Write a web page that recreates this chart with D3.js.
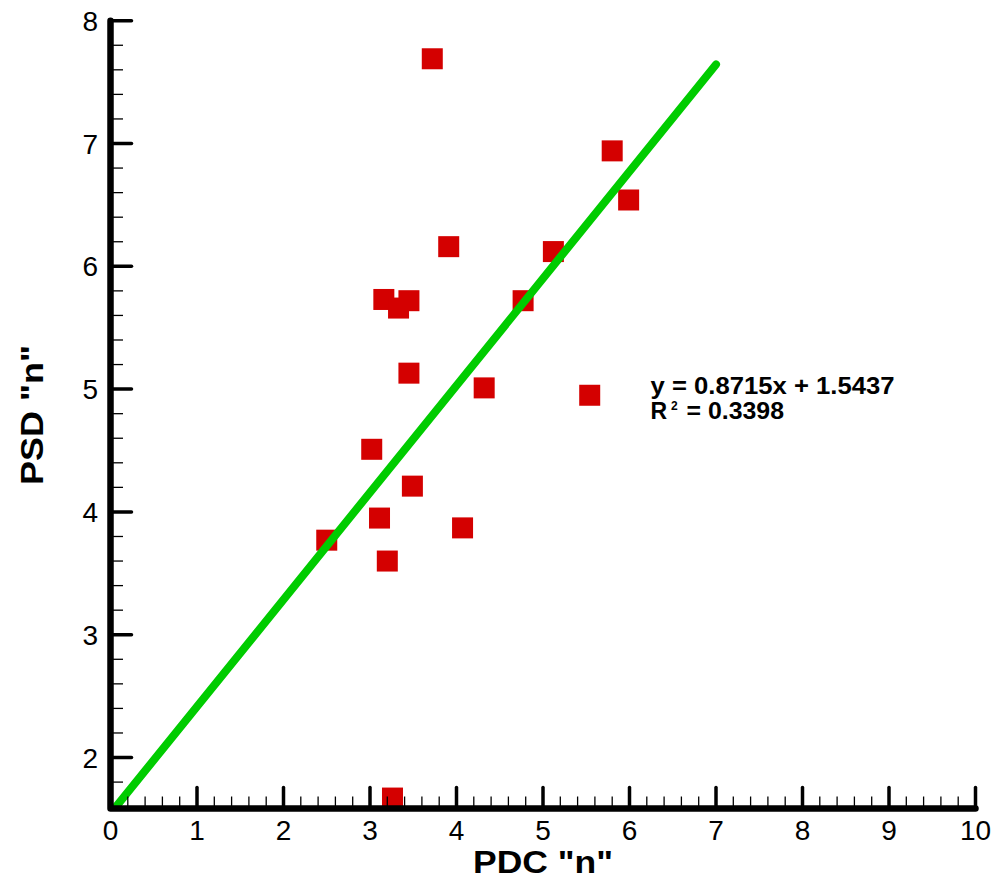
<!DOCTYPE html>
<html>
<head>
<meta charset="utf-8">
<script src="https://cdn.jsdelivr.net/npm/d3@7"></script>
<style>
  html, body { margin: 0; padding: 0; background: #fff; }
  svg { display: block; font-family: "Liberation Sans", Arial, Helvetica, sans-serif; }
</style>
</head>
<body>
<svg id="chart" width="995" height="880"></svg>
<script>
// ---- data ----
const pdcValues = [3.72, 3.91, 3.16, 3.45, 3.33, 3.45, 4.32, 3.02, 3.49, 3.11, 4.07, 2.50, 3.20, 5.80, 5.99, 5.12, 4.77, 5.54, 3.26];
const psdValues = [7.69, 6.16, 5.73, 5.72, 5.66, 5.13, 5.01, 4.51, 4.21, 3.95, 3.87, 3.77, 3.60, 6.94, 6.54, 6.12, 5.72, 4.95, 1.67];
const fitSlope = 0.8715;
const fitIntercept = 1.5437;
const fitXRange = [0, 7];
const xDomain = [0, 10];
const yDomain = [1.585, 8];
const xTickValues = [0, 1, 2, 3, 4, 5, 6, 7, 8, 9, 10];
const yTickValues = [2, 3, 4, 5, 6, 7, 8];
const xTitle = 'PDC "n"';
const yTitle = 'PSD "n"';
const eqLine1 = "y = 0.8715x + 1.5437";
const eqLine2 = "= 0.3398";

(function () {
// ---- layout ----
const svg = d3.select("#chart");
const pLeft = 110.5, pRight = 975.5, pTop = 20.7, pBottom = 808.5;
const x = d3.scaleLinear().domain(xDomain).range([pLeft, pRight]);
const y = d3.scaleLinear().domain(yDomain).range([pBottom, pTop]);

const red = "#d40000", green = "#00cc00";

// clip
svg.append("defs").append("clipPath").attr("id", "plotclip")
  .append("rect").attr("x", pLeft).attr("y", 0).attr("width", pRight - pLeft + 20).attr("height", pBottom);

// markers
const sq = 21;
svg.append("g").selectAll("rect").data(pdcValues.map((d, i) => [d, psdValues[i]]))
  .join("rect")
  .attr("x", d => x(d[0]) - sq / 2)
  .attr("y", d => y(d[1]) - sq / 2)
  .attr("width", sq).attr("height", sq)
  .attr("fill", red);

// fit line
const fitPts = fitXRange.map(v => [v, fitSlope * v + fitIntercept]);
svg.append("path")
  .attr("clip-path", "url(#plotclip)")
  .attr("d", d3.line().x(d => x(d[0])).y(d => y(d[1]))(fitPts))
  .attr("stroke", green).attr("stroke-width", 8).attr("stroke-linecap", "round").attr("fill", "none");

// minor ticks
const minorX = d3.range(0, 51).map(i => i * 0.2).filter(v => Math.abs(v - Math.round(v)) > 1e-6 && v <= xDomain[1]);
const minorY = d3.range(0, 40).map(i => 1.6 + i * 0.2).filter(v => Math.abs(v - Math.round(v)) > 1e-6 && v > yDomain[0] + 0.05 && v < yDomain[1]);

const axes = svg.append("g");
axes.selectAll(".mx").data(minorX).join("line")
  .attr("x1", d => x(d)).attr("x2", d => x(d))
  .attr("y1", pBottom).attr("y2", pBottom - 12)
  .attr("stroke", "#000").attr("stroke-width", 1.3);
axes.selectAll(".my").data(minorY).join("line")
  .attr("y1", d => y(d)).attr("y2", d => y(d))
  .attr("x1", pLeft).attr("x2", pLeft + 12.5)
  .attr("stroke", "#000").attr("stroke-width", 1.3);

// major ticks
axes.selectAll(".Mx").data(xTickValues).join("line")
  .attr("x1", d => x(d)).attr("x2", d => x(d))
  .attr("y1", pBottom).attr("y2", pBottom - 21)
  .attr("stroke", "#000").attr("stroke-width", 3.5).attr("stroke-linecap", "round");
axes.selectAll(".My").data(yTickValues).join("line")
  .attr("y1", d => y(d)).attr("y2", d => y(d))
  .attr("x1", pLeft).attr("x2", pLeft + 21)
  .attr("stroke", "#000").attr("stroke-width", 3.5).attr("stroke-linecap", "round");

// axis lines
axes.append("path")
  .attr("d", `M${pLeft},${y(yDomain[1])} L${pLeft},${pBottom} L${pRight},${pBottom}`)
  .attr("stroke", "#000").attr("stroke-width", 6.5).attr("fill", "none")
  .attr("stroke-linecap", "round").attr("stroke-linejoin", "round");

// tick labels
svg.append("g").selectAll("text").data(xTickValues).join("text")
  .attr("x", d => x(d)).attr("y", 840)
  .attr("text-anchor", "middle").attr("font-size", 28).attr("fill", "#000")
  .text(d => d);
svg.append("g").selectAll("text").data(yTickValues).join("text")
  .attr("x", 98).attr("y", d => y(d) + 10)
  .attr("text-anchor", "end").attr("font-size", 28).attr("fill", "#000")
  .text(d => d);

// axis titles
svg.append("text").attr("x", 543).attr("y", 873)
  .attr("text-anchor", "middle").attr("font-size", 32).attr("font-weight", "bold")
  .attr("textLength", 140).attr("lengthAdjust", "spacingAndGlyphs")
  .text(xTitle);
svg.append("text").attr("transform", "translate(43,415) rotate(-90)")
  .attr("text-anchor", "middle").attr("font-size", 32).attr("font-weight", "bold")
  .attr("textLength", 140).attr("lengthAdjust", "spacingAndGlyphs")
  .text(yTitle);

// equation
svg.append("text").attr("x", 650.5).attr("y", 394)
  .attr("font-size", 23).attr("font-weight", "bold")
  .attr("textLength", 244).attr("lengthAdjust", "spacingAndGlyphs")
  .text(eqLine1);
svg.append("text").attr("x", 650.5).attr("y", 419)
  .attr("font-size", 23).attr("font-weight", "bold")
  .text("R");
svg.append("text").attr("x", 671).attr("y", 410)
  .attr("font-size", 12).attr("font-weight", "bold")
  .text("2");
svg.append("text").attr("x", 686.5).attr("y", 419)
  .attr("font-size", 23).attr("font-weight", "bold")
  .attr("textLength", 97.5).attr("lengthAdjust", "spacingAndGlyphs")
  .text(eqLine2);
})();
</script>
</body>
</html>
